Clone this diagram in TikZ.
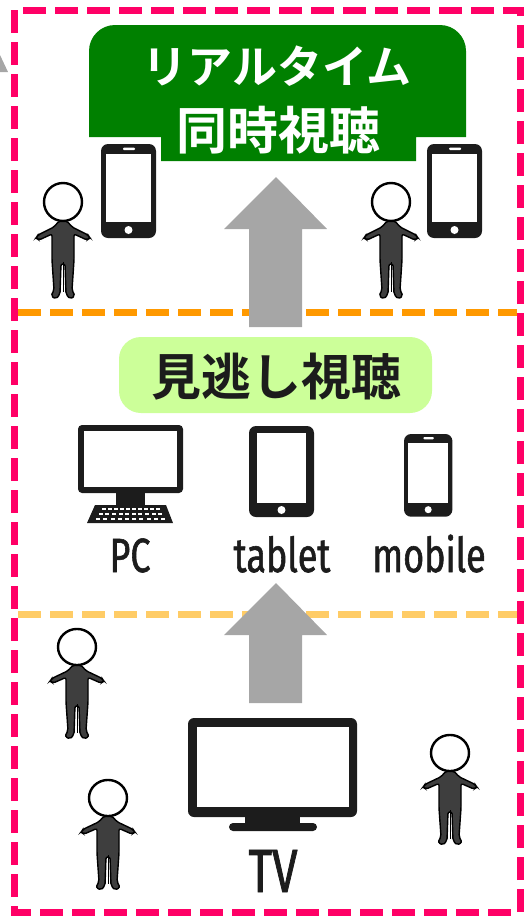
\documentclass[tikz,border=0pt]{standalone}
\usepackage{fontspec}
\newfontfamily\jpfont[BoldFont={Noto Sans CJK JP Bold}]{Noto Sans CJK JP}
\newfontfamily\devfont[FakeStretch=0.75, FakeBold=1.2]{Fira Sans}

\definecolor{framepink}{HTML}{FF0066}
\definecolor{lineorange}{HTML}{FF9900}
\definecolor{linepeach}{HTML}{FFCC66}
\definecolor{livegreen}{HTML}{008000}
\definecolor{replaygreen}{HTML}{CCFF99}
\definecolor{arrowgray}{HTML}{A6A6A6}
\definecolor{ink}{HTML}{1C1C1C}

\tikzset{
  sepline/.style={line width=7pt, dash pattern=on 23pt off 9pt},
  devlabel/.style={anchor=base, inner sep=0pt, text=ink, font=\devfont\fontsize{48}{48}\selectfont},
  % stick figure, origin at the centre of the head
  viewer/.pic={
    \fill[ink!85, draw=black, line width=1.4pt, rounded corners=2pt]
      (-4,19) -- (-9,25) -- (-25,33) -- (-27,36) -- (-24,38) -- (-11,32)
      -- (-11,58) -- (-9,88) -- (-12,94) -- (-7,97) -- (-3,92) -- (-2,62)
      -- (2,62) -- (3,92) -- (7,97) -- (12,94) -- (9,88) -- (11,58)
      -- (11,32) -- (24,38) -- (27,36) -- (25,33) -- (9,25) -- (4,19) -- cycle;
    \draw[black, line width=1pt] (0,60) -- (0,90);
    \draw[black, fill=white, line width=2.4pt] (0,0) circle (19);
  },
  % phone, origin at its top left corner
  smartphone/.pic={
    \fill[ink, rounded corners=7pt] (0,0) rectangle (55,94);
    \fill[white] (5,10) rectangle (50,78);
    \fill[white, rounded corners=1pt] (22,3.5) rectangle (34,6);
    \fill[white] (27.5,86) circle (4);
  },
}

\begin{document}
\begin{tikzpicture}[x=1pt,y=-1pt]
\useasboundingbox (0,0) rectangle (530,916);

% stray arrow tip at the left edge
\fill[arrowgray] (0,55) -- (8,72) -- (0,72) -- cycle;

% section lines and frame
\draw[sepline, lineorange] (18,312) -- (517,312);
\draw[sepline, linepeach] (18,614) -- (517,614);
\draw[sepline, framepink] (14,10) rectangle (520,912);

% top: live viewing
\fill[livegreen] (89,137) [rounded corners=26pt] -- (89,25) -- (466,25)
  [sharp corners] -- (466,137) -- (416,137) -- (416,161) -- (161,161) -- (161,137) -- cycle;
\node[text=white, inner sep=0pt, font=\jpfont\bfseries\fontsize{45}{45}\selectfont] (realtime) at (277,66) {リアルタイム};
\node[text=white, inner sep=0pt, font=\jpfont\bfseries\fontsize{51}{51}\selectfont] (simul) at (278,130) {同時視聴};

\pic at (101,144) {smartphone};
\pic at (427,144) {smartphone};
\pic at (63,202) {viewer};
\pic at (391,202) {viewer};

% middle: catch-up viewing
\fill[replaygreen, rounded corners=22pt] (119,337) rectangle (432,413);
\node[text=ink, inner sep=0pt, font=\jpfont\bfseries\fontsize{50}{50}\selectfont] (missed) at (276,377) {見逃し視聴};

% pc
\fill[ink, rounded corners=4pt] (78,425) rectangle (183,493);
\fill[white] (84,431) rectangle (177,487);
\fill[ink] (116,492) rectangle (145,506);
\fill[ink] (95,505) -- (166,505) -- (173,523) -- (87,523) -- cycle;
\foreach \r in {0,1,2}
  \foreach \c in {0,...,9}
    \fill[white] ({130.5+(\c-4.5)*(6+0.6*\r)-2},{507.5+5*\r}) rectangle +(4,2.6);
% tablet
\fill[ink, rounded corners=7pt] (249,426) rectangle (314,517);
\fill[white] (257,433) rectangle (306,503);
\fill[white] (281.5,510) circle (4);
% mobile
\pic[scale=0.88] at (404,434) {smartphone};

\node[devlabel] (pc) at (130,572) {PC};
\node[devlabel] (tablet) at (282,572) {tablet};
\node[devlabel] (mobile) at (429,572) {mobile};

% bottom: broadcast tv
\fill[ink, rounded corners=6pt] (188,718) rectangle (357,817);
\fill[white] (197,727) rectangle (349,807);
\fill[ink] (245,815) rectangle (300,825);
\fill[ink, rounded corners=4pt] (229,823) rectangle (317,831);
\node[devlabel, font=\devfont\fontsize{61}{61}\selectfont] (tv) at (273,892) {TV};

\pic[yscale=0.95] at (77,647) {viewer};
\pic[yscale=0.95] at (108,798) {viewer};
\pic[yscale=0.95] at (450,753) {viewer};

% upward arrows
\fill[arrowgray] (276,177) -- (327,229) -- (302,229) -- (302,327) -- (249,327) -- (249,229) -- (224,229) -- cycle;
\fill[arrowgray] (276,583) -- (327,635) -- (302,635) -- (302,703) -- (249,703) -- (249,635) -- (224,635) -- cycle;
\end{tikzpicture}
\end{document}
